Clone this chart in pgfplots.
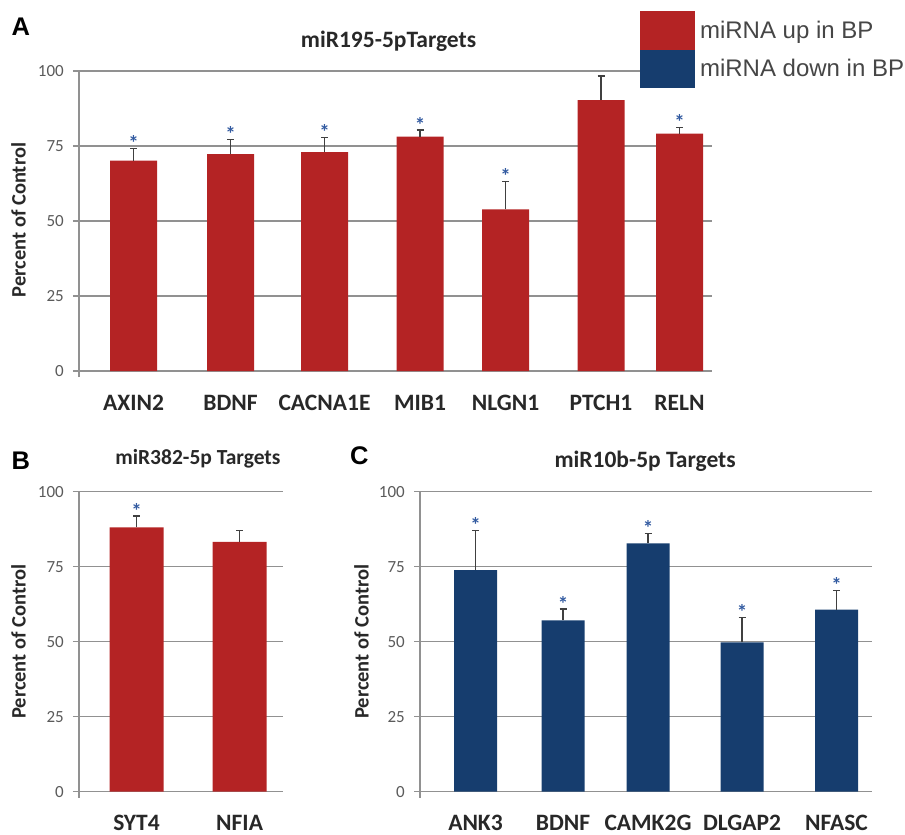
\documentclass[border=0pt]{standalone}
\usepackage{fontspec}
\setmainfont{Carlito}
\newfontfamily\arialfont{Liberation Sans}
\usepackage{pgfplots}
\pgfplotsset{compat=1.18}
\usepackage{pgfplotstable}

\definecolor{barred}{RGB}{180,35,36}
\definecolor{barblue}{RGB}{22,61,110}
\definecolor{gridgray}{RGB}{145,145,145}
\definecolor{ticktext}{RGB}{90,90,90}
\definecolor{labtext}{RGB}{40,40,40}
\definecolor{starblue}{RGB}{50,90,160}
\definecolor{legtext}{RGB}{70,70,70}

\newcommand\ticklabfont{\fontsize{17bp}{19bp}\selectfont}
\newcommand\catfont{\bfseries\fontsize{23.5bp}{26bp}\selectfont}
\newcommand\ylabfont{\bfseries\fontsize{20.5bp}{22bp}\selectfont}
\newcommand\starfont{\bfseries\fontsize{21bp}{22bp}\selectfont}
\newcommand\panfont{\arialfont\bfseries\fontsize{25.5bp}{27bp}\selectfont}

% panel A: x = bar centre, y = percent of control, e = SEM
\pgfplotstableread{
x     y     e
133.5 70.1  4.0
230.5 72.3  4.9
324.5 73.0  4.9
420   78.1  2.2
505.5 53.9  9.2
601   90.3  8.0
679.5 79.1  2.1
}\dataA
\pgfplotstableread{
x     y     e
136.5 88.1  3.8
239.6 83.3  3.7
}\dataB
\pgfplotstableread{
x     y     e
475.5 73.9  13.1
563   57.1  3.8
648   82.8  3.2
742   49.8  8.2
836.5 60.7  6.3
}\dataC

\pgfplotsset{
  panel/.style={
    scale only axis, height=306bp, ymin=-2, ymax=100,
    anchor=south west, clip=false,
    axis y line*=left, axis x line*=bottom,
    x axis line style={draw=none},
    y axis line style={draw=gridgray, line width=1.4bp},
    ytick={0,25,50,75,100},
    ymajorgrids, grid style={gridgray, line width=1.4bp},
    tick align=outside, major tick length=6bp,
    ytick style={draw=gridgray, line width=1.4bp},
    xtick style={draw=none},
    /pgf/number format/assume math mode=true,
    yticklabel style={font=\ticklabfont, text=ticktext, anchor=east, inner sep=0pt, xshift=-9bp},
    xticklabel style={font=\catfont, text=labtext, anchor=base, inner sep=0pt, yshift=-27bp},
    ylabel={Percent of Control},
    xtick=data,
  },
  bars/.style={ybar, fill=#1, draw=none, bar width=47,
    error bars/y dir=plus, error bars/y explicit,
    error bars/error bar style={line width=1.4bp, color=black!75},
    error bars/error mark options={rotate=90, line width=1.4bp, mark size=3.5bp, black!75}},
  stars/.style={draw=none, mark=none, forget plot,
    nodes near coords={*},
    every node near coord/.append style={anchor=base, inner sep=0pt, yshift=-2bp, font=\starfont, text=starblue}},
}

\begin{document}
\begin{tikzpicture}
\path[use as bounding box] (0,0) rectangle (905bp,-835bp);

% ---------------- Panel A ----------------
\begin{axis}[panel, at={(79bp,-377bp)}, width=633bp, xmin=79, xmax=712,
  xticklabels={AXIN2,BDNF,CACNA1E,MIB1,NLGN1,PTCH1,RELN},
  title={miR195-5pTargets},
  title style={font=\bfseries\fontsize{23.5bp}{25bp}\selectfont, text=labtext,
    at={(axis description cs:0.489,1.0588)}, anchor=base, inner sep=0pt},
  ylabel style={font=\ylabfont, text=labtext, at={(axis description cs:-0.0956,0.513)}, anchor=center},
  legend style={at={(axis description cs:0.8863,1.196)}, anchor=north west,
    draw=none, fill=white, inner sep=0pt, outer sep=0pt, row sep=0pt, column sep=3bp,
    font=\arialfont\fontsize{24bp}{27bp}\selectfont, text=legtext,
    cells={anchor=west}},
  legend image code/.code={\fill[#1, draw=none] (0bp,-19.25bp) rectangle (55bp,19.25bp);},
]
\addplot[bars=barred] table[x=x, y=y, y error=e] {\dataA};
\addlegendentry{miRNA up in BP}
\addlegendimage{fill=barblue, draw=none}
\addlegendentry{miRNA down in BP}
\addplot[stars] coordinates {(133.5,74.1) (230.5,77.2) (324.5,77.9) (420,80.3) (505.5,63.1) (679.5,81.2)};
\end{axis}

% ---------------- Panel B ----------------
\begin{axis}[panel, at={(79bp,-797.7bp)}, width=204bp, xmin=79, xmax=283,
  xticklabels={SYT4,NFIA},
  title={miR382-5p Targets},
  title style={font=\bfseries\fontsize{21.5bp}{23bp}\selectfont, text=labtext,
    at={(axis description cs:0.583,1.071)}, anchor=base, inner sep=0pt},
  ylabel style={font=\ylabfont, text=labtext, at={(axis description cs:-0.2966,0.51)}, anchor=center},
]
\addplot[bars=barred, bar width=54] table[x=x, y=y, y error=e] {\dataB};
\addplot[stars] coordinates {(136.5,91.9)};
\end{axis}

% ---------------- Panel C ----------------
\begin{axis}[panel, at={(420bp,-797.7bp)}, width=452bp, xmin=420, xmax=872,
  xticklabels={ANK3,BDNF,CAMK2G,DLGAP2,NFASC},
  title={miR10b-5p Targets},
  title style={font=\bfseries\fontsize{23.5bp}{25bp}\selectfont, text=labtext,
    at={(axis description cs:0.498,1.060)}, anchor=base, inner sep=0pt},
  ylabel style={font=\ylabfont, text=labtext, at={(axis description cs:-0.1294,0.51)}, anchor=center},
]
\addplot[bars=barblue, bar width=43] table[x=x, y=y, y error=e] {\dataC};
\addplot[stars] coordinates {(475.5,87.0) (563,60.9) (648,86.0) (742,58.0) (836.5,67.0)};
\end{axis}

% panel letters
\node[anchor=base west, inner sep=0pt, font=\panfont] at (11.5bp,-35bp) {A};
\node[anchor=base west, inner sep=0pt, font=\panfont] at (11.5bp,-469bp) {B};
\node[anchor=base west, inner sep=0pt, font=\panfont] at (350bp,-464bp) {C};
\end{tikzpicture}
\end{document}
